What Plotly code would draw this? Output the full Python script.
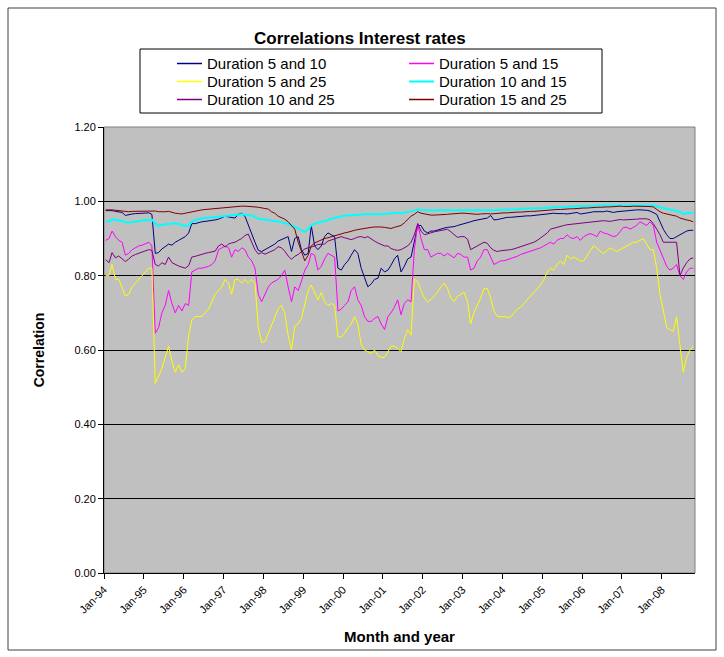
import pandas as pd
import plotly.graph_objects as go

# Monthly observations, Jan 1994 - Oct 2008
months = pd.date_range("1994-01-01", periods=178, freq="MS") + pd.Timedelta(days=15)

tick_years = list(range(1994, 2009))
tick_labels = ["Jan-%02d" % (y % 100) for y in tick_years]
y_ticks = [0.0, 0.2, 0.4, 0.6, 0.8, 1.0, 1.2]

series_names = [
    "Duration 5 and 10", "Duration 5 and 15", "Duration 5 and 25",
    "Duration 10 and 15", "Duration 10 and 25", "Duration 15 and 25",
]
series_colors = ["#000080", "#FF00FF", "#FFFF00", "#00FFFF", "#800080", "#800000"]
series_widths = [1, 1, 1, 2, 1, 1]

corr_5_10 = [
    0.975, 0.976, 0.975, 0.973, 0.972, 0.970, 0.962, 0.965, 0.966, 0.967, 0.968, 0.968, 0.969, 0.969, 0.965,
    0.860, 0.862, 0.872, 0.878, 0.885, 0.882, 0.890, 0.895, 0.900, 0.905, 0.915, 0.940, 0.940, 0.943, 0.945,
    0.946, 0.947, 0.948, 0.950, 0.952, 0.955, 0.960, 0.958, 0.957, 0.955, 0.965, 0.968, 0.960, 0.935,
    0.915, 0.890, 0.868, 0.865, 0.870, 0.875, 0.880, 0.885, 0.893, 0.897, 0.900, 0.905, 0.865, 0.900, 0.905,
    0.870, 0.855, 0.860, 0.935, 0.880, 0.870, 0.880, 0.905, 0.915, 0.910, 0.905, 0.820, 0.815, 0.830, 0.840,
    0.855, 0.870, 0.860, 0.820, 0.795, 0.770, 0.778, 0.790, 0.793, 0.820, 0.810, 0.815, 0.828, 0.845, 0.855,
    0.810, 0.825, 0.845, 0.850, 0.890, 0.935, 0.935, 0.920, 0.915, 0.920, 0.920, 0.923, 0.925, 0.928, 0.930,
    0.930, 0.932, 0.935, 0.937, 0.940, 0.943, 0.945, 0.948, 0.950, 0.952, 0.953, 0.955, 0.962, 0.950, 0.951,
    0.953, 0.955, 0.957, 0.957, 0.958, 0.958, 0.960, 0.960, 0.961, 0.961, 0.962, 0.962, 0.964, 0.965, 0.966,
    0.966, 0.968, 0.967, 0.968, 0.967, 0.966, 0.967, 0.968, 0.970, 0.966, 0.967, 0.968, 0.970, 0.972, 0.972,
    0.971, 0.972, 0.974, 0.972, 0.970, 0.972, 0.973, 0.974, 0.975, 0.976, 0.977, 0.977, 0.977, 0.977, 0.976,
    0.974, 0.970, 0.965, 0.945, 0.925, 0.910, 0.900, 0.900, 0.905, 0.910, 0.915, 0.920, 0.922, 0.922,
]

corr_5_15 = [
    0.895, 0.900, 0.920, 0.905, 0.895, 0.890, 0.855, 0.860, 0.870, 0.875, 0.880, 0.882, 0.885, 0.890, 0.880,
    0.645, 0.660, 0.700, 0.720, 0.760, 0.725, 0.700, 0.720, 0.705, 0.725, 0.720, 0.810, 0.815, 0.820, 0.820,
    0.822, 0.825, 0.830, 0.840, 0.870, 0.875, 0.880, 0.875, 0.850, 0.870, 0.865, 0.875, 0.870, 0.850,
    0.840, 0.820, 0.750, 0.730, 0.750, 0.770, 0.780, 0.785, 0.790, 0.800, 0.815, 0.770, 0.730, 0.770, 0.760,
    0.785, 0.815, 0.830, 0.860, 0.855, 0.815, 0.825, 0.845, 0.860, 0.855, 0.850, 0.705, 0.710, 0.720, 0.730,
    0.760, 0.770, 0.735, 0.720, 0.690, 0.677, 0.677, 0.685, 0.690, 0.670, 0.655, 0.690, 0.700, 0.715, 0.735,
    0.695, 0.725, 0.735, 0.730, 0.870, 0.940, 0.900, 0.870, 0.870, 0.850, 0.855, 0.860, 0.860, 0.853, 0.860,
    0.855, 0.848, 0.860, 0.857, 0.850, 0.850, 0.815, 0.820, 0.840, 0.850, 0.870, 0.870, 0.850, 0.830, 0.835,
    0.840, 0.840, 0.843, 0.845, 0.850, 0.852, 0.857, 0.860, 0.862, 0.865, 0.870, 0.872, 0.875, 0.880, 0.885,
    0.890, 0.885, 0.895, 0.900, 0.900, 0.910, 0.902, 0.900, 0.905, 0.895, 0.905, 0.910, 0.913, 0.910, 0.905,
    0.920, 0.915, 0.913, 0.910, 0.905, 0.908, 0.920, 0.930, 0.930, 0.925, 0.930, 0.935, 0.945, 0.940, 0.935,
    0.945, 0.935, 0.890, 0.870, 0.850, 0.825, 0.815, 0.820, 0.830, 0.800, 0.790, 0.810, 0.820, 0.820,
]

corr_5_25 = [
    0.800, 0.800, 0.830, 0.790, 0.790, 0.765, 0.745, 0.750, 0.770, 0.780, 0.790, 0.800, 0.810, 0.820, 0.820,
    0.510, 0.530, 0.550, 0.580, 0.610, 0.570, 0.540, 0.560, 0.540, 0.550, 0.640, 0.680, 0.690, 0.690, 0.690,
    0.700, 0.710, 0.730, 0.750, 0.760, 0.770, 0.790, 0.780, 0.750, 0.790, 0.790, 0.780, 0.790, 0.780,
    0.790, 0.780, 0.660, 0.620, 0.623, 0.645, 0.670, 0.690, 0.710, 0.720, 0.700, 0.640, 0.600, 0.665, 0.670,
    0.685, 0.725, 0.760, 0.775, 0.755, 0.735, 0.755, 0.730, 0.720, 0.725, 0.720, 0.635, 0.635, 0.645, 0.660,
    0.670, 0.690, 0.670, 0.615, 0.600, 0.595, 0.590, 0.600, 0.585, 0.580, 0.580, 0.595, 0.610, 0.610, 0.605,
    0.595, 0.630, 0.655, 0.640, 0.790, 0.785, 0.760, 0.740, 0.730, 0.735, 0.745, 0.755, 0.770, 0.780, 0.765,
    0.740, 0.730, 0.745, 0.750, 0.755, 0.730, 0.670, 0.700, 0.720, 0.740, 0.765, 0.765, 0.740, 0.705, 0.690,
    0.690, 0.690, 0.690, 0.688, 0.700, 0.710, 0.715, 0.725, 0.735, 0.745, 0.755, 0.765, 0.775, 0.790, 0.810,
    0.820, 0.815, 0.830, 0.840, 0.830, 0.855, 0.845, 0.850, 0.845, 0.840, 0.840, 0.855, 0.865, 0.880, 0.875,
    0.865, 0.860, 0.868, 0.875, 0.870, 0.865, 0.870, 0.875, 0.880, 0.885, 0.890, 0.890, 0.895, 0.900, 0.885,
    0.870, 0.870, 0.820, 0.750, 0.700, 0.660, 0.655, 0.650, 0.690, 0.620, 0.540, 0.580, 0.600, 0.610,
]

corr_10_15 = [
    0.946, 0.946, 0.952, 0.951, 0.949, 0.947, 0.943, 0.943, 0.944, 0.946, 0.948, 0.949, 0.950, 0.949, 0.951,
    0.940, 0.934, 0.937, 0.938, 0.940, 0.942, 0.941, 0.939, 0.937, 0.934, 0.935, 0.945, 0.950, 0.952, 0.953,
    0.955, 0.956, 0.957, 0.958, 0.959, 0.960, 0.961, 0.962, 0.963, 0.964, 0.965, 0.965, 0.964, 0.963,
    0.962, 0.958, 0.953, 0.952, 0.951, 0.950, 0.949, 0.948, 0.946, 0.944, 0.942, 0.939, 0.935, 0.932, 0.927,
    0.922, 0.918, 0.925, 0.935, 0.940, 0.942, 0.944, 0.947, 0.950, 0.953, 0.956, 0.958, 0.960, 0.961, 0.962,
    0.963, 0.964, 0.965, 0.966, 0.966, 0.966, 0.965, 0.964, 0.965, 0.965, 0.966, 0.967, 0.967, 0.968, 0.969,
    0.968, 0.969, 0.971, 0.973, 0.975, 0.978, 0.977, 0.976, 0.976, 0.975, 0.975, 0.976, 0.976, 0.976, 0.976,
    0.976, 0.975, 0.976, 0.976, 0.976, 0.975, 0.974, 0.974, 0.975, 0.975, 0.976, 0.976, 0.976, 0.976, 0.977,
    0.977, 0.978, 0.978, 0.979, 0.979, 0.979, 0.980, 0.980, 0.980, 0.981, 0.981, 0.981, 0.982, 0.982, 0.983,
    0.983, 0.984, 0.984, 0.985, 0.985, 0.985, 0.986, 0.986, 0.986, 0.987, 0.987, 0.987, 0.988, 0.988, 0.988,
    0.989, 0.989, 0.989, 0.990, 0.990, 0.990, 0.990, 0.990, 0.991, 0.991, 0.991, 0.991, 0.991, 0.991, 0.991,
    0.990, 0.989, 0.986, 0.984, 0.980, 0.979, 0.977, 0.975, 0.974, 0.972, 0.966, 0.968, 0.970, 0.967,
]

corr_10_25 = [
    0.843, 0.835, 0.862, 0.848, 0.853, 0.845, 0.838, 0.845, 0.853, 0.857, 0.860, 0.862, 0.865, 0.870, 0.868,
    0.830, 0.826, 0.835, 0.830, 0.850, 0.835, 0.830, 0.826, 0.823, 0.820, 0.827, 0.850, 0.852, 0.855, 0.858,
    0.860, 0.862, 0.864, 0.866, 0.880, 0.885, 0.877, 0.885, 0.888, 0.890, 0.895, 0.900, 0.908, 0.912,
    0.890, 0.870, 0.858, 0.862, 0.858, 0.862, 0.866, 0.870, 0.878, 0.875, 0.866, 0.853, 0.844, 0.852, 0.857,
    0.864, 0.872, 0.875, 0.877, 0.880, 0.884, 0.885, 0.885, 0.893, 0.896, 0.900, 0.903, 0.905, 0.902, 0.900,
    0.897, 0.900, 0.904, 0.905, 0.902, 0.905, 0.898, 0.893, 0.888, 0.885, 0.880, 0.880, 0.873, 0.870, 0.868,
    0.870, 0.875, 0.880, 0.890, 0.910, 0.940, 0.920, 0.910, 0.912, 0.915, 0.918, 0.920, 0.922, 0.923, 0.925,
    0.918, 0.910, 0.903, 0.905, 0.905, 0.898, 0.870, 0.875, 0.880, 0.885, 0.890, 0.887, 0.875, 0.868, 0.865,
    0.867, 0.868, 0.868, 0.870, 0.872, 0.875, 0.878, 0.880, 0.883, 0.886, 0.890, 0.895, 0.902, 0.908, 0.915,
    0.925, 0.928, 0.930, 0.932, 0.935, 0.937, 0.938, 0.940, 0.940, 0.940, 0.942, 0.943, 0.944, 0.945, 0.946,
    0.947, 0.948, 0.947, 0.946, 0.948, 0.950, 0.951, 0.950, 0.950, 0.951, 0.951, 0.952, 0.953, 0.954, 0.953,
    0.950, 0.940, 0.925, 0.910, 0.890, 0.890, 0.890, 0.892, 0.890, 0.800, 0.820, 0.835, 0.845, 0.848,
]

corr_15_25 = [
    0.977, 0.978, 0.977, 0.976, 0.975, 0.975, 0.972, 0.972, 0.973, 0.973, 0.974, 0.974, 0.974, 0.975, 0.975,
    0.974, 0.972, 0.971, 0.972, 0.973, 0.970, 0.968, 0.967, 0.966, 0.968, 0.970, 0.973, 0.975, 0.976, 0.977,
    0.978, 0.979, 0.980, 0.981, 0.982, 0.983, 0.984, 0.985, 0.985, 0.986, 0.986, 0.987, 0.987, 0.987,
    0.987, 0.985, 0.984, 0.982, 0.981, 0.979, 0.972, 0.968, 0.960, 0.957, 0.952, 0.945, 0.935, 0.925, 0.890,
    0.865, 0.840, 0.855, 0.880, 0.888, 0.892, 0.895, 0.900, 0.902, 0.905, 0.908, 0.910, 0.913, 0.915, 0.917,
    0.920, 0.922, 0.924, 0.926, 0.928, 0.929, 0.930, 0.931, 0.932, 0.931, 0.930, 0.928, 0.927, 0.930, 0.932,
    0.935, 0.942, 0.950, 0.960, 0.965, 0.972, 0.968, 0.966, 0.964, 0.963, 0.963, 0.963, 0.963, 0.964, 0.965,
    0.966, 0.967, 0.967, 0.968, 0.968, 0.967, 0.965, 0.965, 0.965, 0.966, 0.967, 0.967, 0.966, 0.967, 0.968,
    0.968, 0.969, 0.969, 0.970, 0.970, 0.971, 0.971, 0.972, 0.972, 0.973, 0.973, 0.974, 0.975, 0.975, 0.976,
    0.977, 0.977, 0.978, 0.978, 0.979, 0.979, 0.980, 0.980, 0.981, 0.981, 0.982, 0.982, 0.983, 0.983, 0.984,
    0.984, 0.985, 0.985, 0.985, 0.986, 0.987, 0.987, 0.986, 0.985, 0.986, 0.987, 0.987, 0.988, 0.988, 0.987,
    0.986, 0.985, 0.978, 0.972, 0.968, 0.966, 0.965, 0.963, 0.960, 0.955, 0.952, 0.950, 0.948, 0.945,
]

all_series = [corr_5_10, corr_5_15, corr_5_25, corr_10_15, corr_10_25, corr_15_25]

FONT = "Liberation Sans, Arial, sans-serif"
W, H = 724, 657
ML, MR, MT, MB = 104, 29, 127, 84
PW, PH = W - ML - MR, H - MT - MB


def px_x(px):
    """Page pixel column -> paper x."""
    return (px - ML) / PW


def px_y(py):
    """Page pixel row -> paper y."""
    return (H - MB - py) / PH


fig = go.Figure()
for name, color, lw, values in zip(series_names, series_colors, series_widths, all_series):
    fig.add_trace(go.Scatter(
        x=months[:len(values)], y=values, name=name, mode="lines",
        line=dict(color=color, width=lw), showlegend=False,
    ))

fig.update_layout(
    width=W, height=H,
    margin=dict(l=ML, r=MR, t=MT, b=MB),
    paper_bgcolor="white",
    plot_bgcolor="#C0C0C0",
    font=dict(family=FONT, color="black", size=11),
    title=dict(
        text="<b>Correlations Interest rates</b>",
        x=0.497, xref="container", xanchor="center",
        y=1 - 38 / H, yref="container", yanchor="middle",
        font=dict(size=17, family=FONT, color="black"),
    ),
    showlegend=False,
)

fig.update_xaxes(
    range=["1994-01-01", "2008-11-01"],
    tickvals=["%d-01-01" % y for y in tick_years],
    ticktext=tick_labels,
    tickangle=-45,
    ticks="outside", ticklen=5, tickcolor="black",
    showline=True, linecolor="black", linewidth=1,
    showgrid=False, zeroline=False,
    tickfont=dict(size=11, family=FONT),
    title=dict(text="<b>Month and year</b>", font=dict(size=15, family=FONT), standoff=16),
)

fig.update_yaxes(
    range=[0, 1.2],
    tickvals=y_ticks,
    tickformat=".2f",
    ticks="outside", ticklen=5, tickcolor="black",
    showline=True, linecolor="black", linewidth=1,
    showgrid=True, gridcolor="black", gridwidth=1,
    zeroline=False,
    tickfont=dict(size=11, family=FONT),
    title=dict(text="<b>Correlation</b>", font=dict(size=14, family=FONT), standoff=26),
)

# plot-area border and outer chart frame
fig.add_shape(type="rect", xref="paper", yref="paper", x0=0, x1=1, y0=0, y1=1,
              line=dict(color="#808080", width=1), layer="below")
fig.add_shape(type="rect", xref="paper", yref="paper",
              x0=px_x(8), x1=px_x(716), y0=px_y(650), y1=px_y(8),
              line=dict(color="#404040", width=1))

# two-column key above the plot, filled row by row
KEY_BOX = (140, 49, 602, 113)          # left, top, right, bottom (px)
KEY_ROW0, KEY_DY = 63.5, 18
KEY_COLS = (177, 409)
KEY_LINE = 25
fig.add_shape(type="rect", xref="paper", yref="paper",
              x0=px_x(KEY_BOX[0]), x1=px_x(KEY_BOX[2]),
              y0=px_y(KEY_BOX[3]), y1=px_y(KEY_BOX[1]),
              line=dict(color="black", width=1), fillcolor="white")
for k, (name, color, lw) in enumerate(zip(series_names, series_colors, series_widths)):
    row, col = divmod(k, 2)
    yy = px_y(KEY_ROW0 + row * KEY_DY)
    x0 = KEY_COLS[col]
    fig.add_shape(type="line", xref="paper", yref="paper",
                  x0=px_x(x0), x1=px_x(x0 + KEY_LINE), y0=yy, y1=yy,
                  line=dict(color=color, width=max(lw, 1.5)))
    fig.add_annotation(xref="paper", yref="paper", x=px_x(x0 + KEY_LINE + 3), y=yy,
                       text=name, showarrow=False, xanchor="left", yanchor="middle",
                       font=dict(size=15, family=FONT, color="black"))

fig.write_html("out.html")
